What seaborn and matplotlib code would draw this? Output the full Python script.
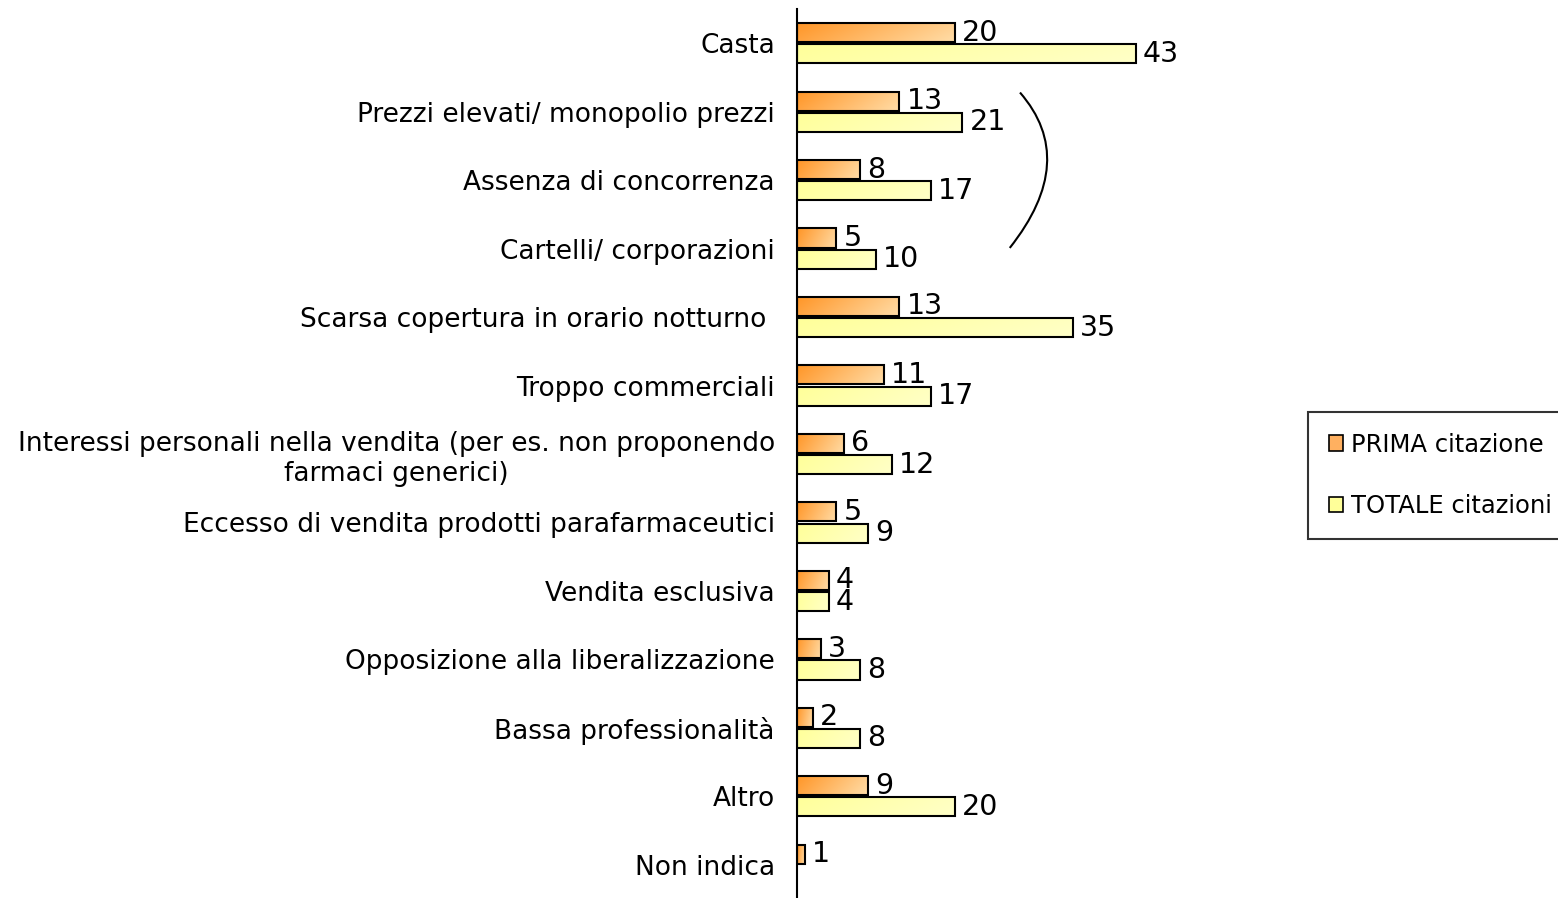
import numpy as np
import pandas as pd
import matplotlib
matplotlib.use("Agg")
import matplotlib.pyplot as plt
import seaborn as sns
from matplotlib.patches import Patch, PathPatch
from matplotlib.path import Path
from matplotlib.colors import LinearSegmentedColormap

# Data
categories = [
    "Casta",
    "Prezzi elevati/ monopolio prezzi",
    "Assenza di concorrenza",
    "Cartelli/ corporazioni",
    "Scarsa copertura in orario notturno ",
    "Troppo commerciali",
    "Interessi personali nella vendita (per es. non proponendo\nfarmaci generici)",
    "Eccesso di vendita prodotti parafarmaceutici",
    "Vendita esclusiva",
    "Opposizione alla liberalizzazione",
    "Bassa professionalità",
    "Altro",
    "Non indica",
]
prima = [20, 13, 8, 5, 13, 11, 6, 5, 4, 3, 2, 9, 1]
totale = [43, 21, 17, 10, 35, 17, 12, 9, 4, 8, 8, 20, np.nan]
series = ["PRIMA citazione", "TOTALE citazioni"]

df = pd.DataFrame({
    "categoria": categories * 2,
    "valore": prima + totale,
    "serie": [series[0]] * len(categories) + [series[1]] * len(categories),
})

sns.set_style("white")
plt.rcParams["font.family"] = ["DejaVu Sans"]
plt.rcParams["text.color"] = "black"
plt.rcParams["ytick.color"] = "black"
plt.rcParams["ytick.labelcolor"] = "black"

orange_cmap = LinearSegmentedColormap.from_list("orange", ["#FF9526", "#FFDDA8"])
yellow_cmap = LinearSegmentedColormap.from_list("yellow", ["#FFFF99", "#FFFFC8"])
palette = {series[0]: "#FFB060", series[1]: "#FFFF99"}

fig = plt.figure(figsize=(15.58, 8.98), dpi=100)
ax = fig.add_axes([797 / 1558, -1 / 898, 60 * 7.88 / 1558, 890 / 898])

sns.barplot(data=df, y="categoria", x="valore", hue="serie", order=categories,
            hue_order=series, palette=palette, width=0.62, gap=0.1, orient="h",
            edgecolor="black", linewidth=1.5, legend=False, ax=ax)

# gradient fill inside each bar
grad = np.linspace(0, 1, 256)
gx, gy = np.meshgrid(grad, np.linspace(0, 1, 32))
g = np.clip(0.8 * gx + 0.2 * gy, 0, 1)
for cont, cmap in zip(ax.containers, [orange_cmap, yellow_cmap]):
    for bar in cont:
        x0, y0 = bar.get_x(), bar.get_y()
        w, h = bar.get_width(), bar.get_height()
        if not np.isfinite(w) or w == 0:
            continue
        im = ax.imshow(g, cmap=cmap, aspect="auto", extent=(x0, x0 + w, y0 + h, y0),
                       zorder=2, interpolation="bilinear")
        im.set_clip_path(bar)
        bar.set_facecolor("none")
        bar.set_zorder(3)
    ax.bar_label(cont, labels=[f"{v:.0f}" if np.isfinite(v) else "" for v in cont.datavalues],
                 padding=5, fontsize=20.5)

ax.set_xlim(0, 60)
ax.set_ylim(len(categories) - 0.5, -0.5)
ax.set_xlabel("")
ax.set_ylabel("")
ax.set_xticks([])
for side in ["top", "right", "bottom"]:
    ax.spines[side].set_visible(False)
ax.spines["left"].set_color("black")
ax.spines["left"].set_linewidth(1.5)

ax.set_yticks(range(len(categories)))
ax.set_yticklabels(categories, fontsize=19, multialignment="center")
ax.set_yticks(np.arange(-0.5, len(categories), 1), minor=True)
ax.tick_params(axis="y", which="major", length=0, pad=16)
ax.tick_params(axis="y", which="minor", length=7, width=1.5, color="black", direction="out")

# bracket grouping the price-related items
verts = [(28.3, 0.72), (35.8, 1.71), (27.0, 2.99)]
bracket = PathPatch(Path(verts, [Path.MOVETO, Path.CURVE3, Path.CURVE3]),
                    facecolor="none", edgecolor="black", linewidth=1.5, zorder=4)
ax.add_patch(bracket)

handles = [Patch(facecolor=palette[s], edgecolor="black", linewidth=1.2) for s in series]
leg = fig.legend(handles, series, loc="upper left", bbox_to_anchor=(1308 / 1558, 1 - 412 / 898),
                 fontsize=17.5, frameon=True, fancybox=False, edgecolor="black",
                 handlelength=0.6, handleheight=0.6, handletextpad=0.3,
                 labelspacing=1.55, borderpad=0.85, borderaxespad=0)
leg.get_frame().set_linewidth(1.5)

plt.savefig("out.png", dpi=100)
